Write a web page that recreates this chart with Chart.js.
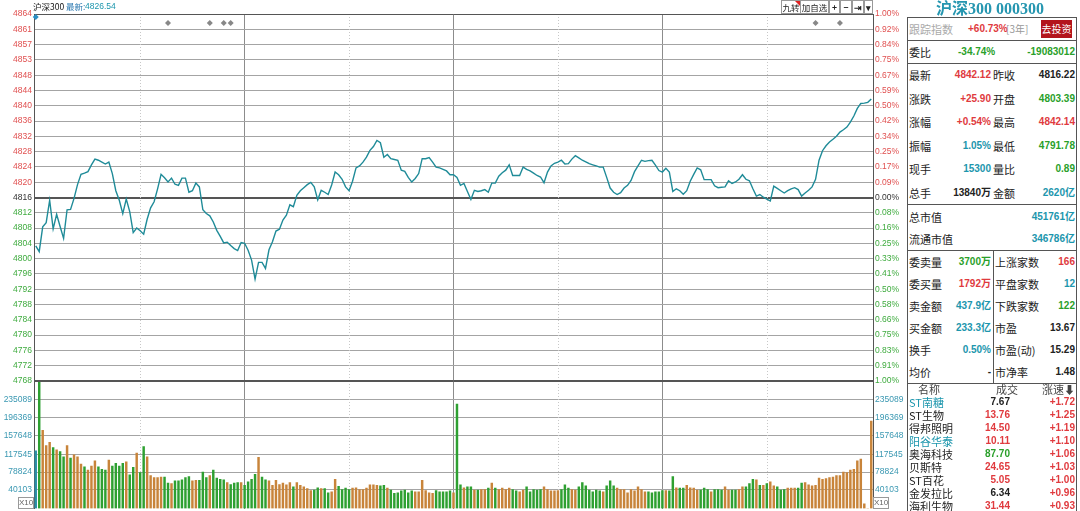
<!DOCTYPE html>
<html>
<head>
<meta charset="utf-8">
<script src="https://cdn.jsdelivr.net/npm/chart.js@4.4.1/dist/chart.umd.min.js"></script>
<style>
  body { margin: 0; background: #fff; width: 1080px; height: 511px; overflow: hidden; position: relative;
         font-family: "Liberation Sans", Arial, "Noto Sans CJK SC", sans-serif; }
  canvas { position: absolute; left: 0; }
  #pc { top: 0; }
  #vc { top: 381px; }
  .t { position: absolute; white-space: nowrap; line-height: 14px; }
  .ln { position: absolute; background: #555; }
  .btn { position: absolute; top: 0; height: 12px; border: 1px solid #999; font-size: 8.5px; line-height: 12px;
         text-align: center; color: #222; background: #fff; white-space: nowrap; overflow: hidden;
         font-family: "Noto Sans CJK SC", sans-serif; }
  .x10 { position: absolute; top: 497px; width: 14px; height: 10px; border: 1px solid #999; font-size: 8px;
         line-height: 10px; text-align: center; color: #666; }
</style>
</head>
<body>
<canvas id="pc" width="905" height="395" style="width:905px;height:395px"></canvas>
<canvas id="vc" width="905" height="130" style="width:905px;height:130px"></canvas>
<div id="ui"></div>
<script>
// --- data ---
const prevClose = 4816.22;

// minute-by-minute index level, 09:30 .. 15:00 (241 points)
const priceSeries = [
  4803.5, 4802.0, 4808.5, 4809.6, 4815.5, 4808.0, 4811.8, 4808.6, 4805.5, 4813.0,
  4813.1, 4816.0, 4819.6, 4822.3, 4822.6, 4823.0, 4824.8, 4826.3, 4826.0, 4825.5,
  4825.0, 4825.5, 4822.5, 4818.0, 4815.5, 4812.0, 4815.8, 4812.5, 4807.0, 4808.2,
  4807.5, 4806.6, 4810.5, 4813.5, 4815.1, 4818.5, 4822.3, 4821.4, 4820.3, 4821.3,
  4819.7, 4819.4, 4821.3, 4821.3, 4817.6, 4818.0, 4820.0, 4819.0, 4813.0, 4812.0,
  4811.4, 4809.8, 4807.6, 4806.0, 4804.3, 4804.5, 4803.6, 4802.8, 4802.3, 4804.4,
  4804.2, 4802.4, 4799.8, 4794.8, 4799.2, 4799.2, 4797.6, 4802.5, 4804.6, 4807.4,
  4807.9, 4810.3, 4811.6, 4814.3, 4813.8, 4816.8, 4818.0, 4818.8, 4819.6, 4820.2,
  4819.0, 4815.6, 4818.1, 4817.6, 4817.0, 4819.5, 4822.9, 4822.2, 4821.0, 4819.0,
  4818.0, 4820.5, 4824.0, 4824.5, 4825.5, 4826.8, 4828.6, 4829.6, 4831.2, 4830.6,
  4826.8, 4827.5, 4826.4, 4826.2, 4826.0, 4823.4, 4823.1, 4821.5, 4820.3, 4821.2,
  4822.5, 4826.4, 4826.4, 4826.7, 4825.5, 4824.2, 4824.0, 4823.6, 4823.2, 4822.2,
  4822.2, 4821.5, 4819.4, 4819.9, 4817.8, 4815.7, 4818.1, 4817.8, 4818.0, 4818.3,
  4817.6, 4820.0, 4820.0, 4821.8, 4822.7, 4823.4, 4824.8, 4822.0, 4822.0, 4822.0,
  4824.2, 4823.6, 4823.2, 4822.6, 4822.0, 4821.6, 4820.1, 4822.9, 4824.5, 4825.2,
  4825.5, 4826.0, 4825.0, 4825.1, 4826.3, 4827.2, 4826.6, 4826.0, 4825.6, 4825.1,
  4824.8, 4824.5, 4824.2, 4824.2, 4821.5, 4818.7, 4817.6, 4817.0, 4817.5, 4818.7,
  4819.4, 4820.7, 4823.0, 4824.5, 4826.0, 4825.7, 4825.9, 4826.0, 4824.7, 4823.3,
  4822.9, 4823.9, 4822.9, 4817.8, 4818.5, 4818.0, 4817.1, 4818.0, 4820.5, 4822.3,
  4824.0, 4823.5, 4820.9, 4820.9, 4820.9, 4819.3, 4818.8, 4818.9, 4819.0, 4820.6,
  4819.9, 4820.3, 4821.0, 4822.2, 4821.0, 4820.6, 4818.5, 4816.6, 4817.0, 4816.3,
  4815.8, 4815.3, 4819.2, 4818.6, 4818.0, 4817.4, 4818.0, 4818.5, 4818.8, 4818.3,
  4816.6, 4817.4, 4818.1, 4819.0, 4821.0, 4826.0, 4828.5, 4829.8, 4830.8, 4831.5,
  4832.3, 4833.4, 4834.0, 4834.7, 4836.0, 4837.6, 4839.6, 4840.9, 4841.0, 4841.2,
  4842.1
];

// per-minute volume (shown x10)
const volumeSeries = [
  125000, 280000, 169000, 136000, 143000, 132000, 127000, 123000, 112000, 136000,
  109000, 116000, 112000, 96000, 90000, 83000, 92000, 103000, 90000, 85000,
  83000, 105000, 92000, 98000, 92000, 98000, 101000, 73000, 89000, 120000,
  78000, 134000, 112000, 71000, 67000, 67000, 68000, 68000, 55000, 54000,
  60000, 60000, 62000, 67000, 69000, 60000, 61000, 61000, 79000, 67000,
  71000, 83000, 66000, 63000, 62000, 56000, 52000, 55000, 56000, 56000,
  50000, 58000, 63000, 74000, 111000, 68000, 62000, 60000, 50000, 61000,
  52000, 55000, 51000, 56000, 47000, 56000, 50000, 47000, 43000, 39000,
  40000, 45000, 43000, 43000, 34000, 36000, 63000, 48000, 41000, 44000,
  41000, 44000, 45000, 41000, 41000, 44000, 51000, 51000, 50000, 49000,
  50000, 44000, 40000, 33000, 34000, 38000, 40000, 34000, 38000, 36000,
  36000, 61000, 39000, 34000, 33000, 39000, 36000, 36000, 36000, 38000,
  34000, 226000, 51000, 45000, 47000, 47000, 40000, 40000, 41000, 41000,
  44000, 55000, 44000, 41000, 44000, 41000, 44000, 41000, 38000, 36000,
  40000, 47000, 36000, 41000, 40000, 41000, 47000, 41000, 38000, 38000,
  39000, 41000, 51000, 44000, 41000, 40000, 47000, 56000, 49000, 40000,
  36000, 40000, 38000, 36000, 49000, 60000, 49000, 44000, 41000, 41000,
  34000, 41000, 38000, 47000, 41000, 36000, 36000, 34000, 36000, 36000,
  39000, 39000, 38000, 69000, 45000, 44000, 44000, 50000, 45000, 44000,
  40000, 40000, 44000, 41000, 36000, 41000, 41000, 40000, 47000, 40000,
  40000, 40000, 41000, 47000, 47000, 54000, 63000, 62000, 50000, 50000,
  54000, 58000, 49000, 47000, 40000, 41000, 44000, 44000, 44000, 44000,
  55000, 56000, 51000, 49000, 50000, 66000, 63000, 65000, 67000, 68000,
  71000, 71000, 79000, 78000, 83000, 85000, 103000, 107000, 10000, 0,
  189000
];

// bar direction per minute: u = up (orange), d = down (green), n = auction
const volumeDir = (
  "nduuududdu" + "duuuduuudd" + "dudddduddu" + "dduuuuuddu" + "ddddduuddd" +
  "uddddudddu" + "ddddudduuu" + "uuuuduuuuu" + "ddudduuddd" + "duuuuuuuud" +
  "dudddddddu" + "uuuuuddddd" + "uddudduduu" + "duduuuuddu" + "uddddduuuu" +
  "uddduudddd" + "ddduddduuu" + "uuuuuudddd" + "duddudduuu" + "uddduddduu" +
  "dduudddudu" + "duuddduuud" + "duuuuuuuuu" + "uuuuuuuuuu" + "u"
).split("");

const priceTickLabels = [
  "4768", "4772", "4776", "4780", "4784", "4788", "4792", "4796", "4800", "4804", "4808", "4812",
  "4816", "4820", "4824", "4828", "4832", "4836", "4840", "4844", "4848", "4853", "4857", "4861", "4864"
];
const pctTickLabels = [
  "1.00%", "0.91%", "0.83%", "0.75%", "0.66%", "0.58%", "0.50%", "0.41%", "0.33%", "0.25%", "0.16%", "0.08%",
  "0.00%", "0.09%", "0.17%", "0.25%", "0.34%", "0.42%", "0.50%", "0.59%", "0.67%", "0.75%", "0.84%", "0.92%", "1.00%"
];
const volumeTicks = [40103, 78824, 117545, 157648, 196369, 235089];
const hourMarks = [60, 120, 180];
const halfHourMarks = [30, 90, 150, 210];
const eventMarkers = [38, 50, 54, 56, 224, 231];

// --- colours ---
const RED = "#e03a3e", GREEN = "#2a9f2a", TEAL = "#1c96ad", BLACK = "#222";
const AX_RED = "#e05050", AX_GREEN = "#3fab3f";

// grid levels: prevClose +/- k * (1% / 12)
const step = prevClose * 0.01 / 12;
const priceTicks = priceTickLabels.map((_, i) => prevClose + (i - 12) * step);
const yMin = priceTicks[0], yMax = priceTicks[priceTicks.length - 1];

const levelColor = v => Math.abs(v - prevClose) < 0.01 ? "#333" : (v > prevClose ? AX_RED : AX_GREEN);
const axisFont = { family: "Liberation Sans", size: 8.5 };

function fixWidth(w) {
  return s => { s.width = w; s.paddingTop = 0; s.paddingBottom = 0; };
}

// shared minute axis (fresh object per chart)
function minuteAxis() {
  return {
    type: "linear", min: -0.5, max: 240.5, offset: false,
    afterBuildTicks: s => { s.ticks = hourMarks.map(v => ({ value: v })); },
    afterFit: s => { s.height = 0; },
    ticks: { display: false },
    grid: { color: "#8c8c8c", drawTicks: false, offset: false },
    border: { display: false }
  };
}

// dotted half-hour lines, event markers and frame
const decor = {
  id: "decor",
  beforeDatasetsDraw(c, args, opts) {
    const a = c.chartArea, g = c.ctx, xs = c.scales.x;
    g.save();
    g.strokeStyle = "#c8c8c8";
    g.lineWidth = 1;
    g.setLineDash([1, 2]);
    halfHourMarks.forEach(m => {
      const x = Math.round(xs.getPixelForValue(m)) + 0.5;
      g.beginPath(); g.moveTo(x, a.top); g.lineTo(x, a.bottom); g.stroke();
    });
    g.restore();
  },
  afterDatasetsDraw(c, args, opts) {
    const a = c.chartArea, g = c.ctx, xs = c.scales.x;
    g.save();
    g.strokeStyle = "#555";
    g.lineWidth = 1;
    g.beginPath();
    g.moveTo(a.left, Math.round(a.top) + 0.5); g.lineTo(a.right, Math.round(a.top) + 0.5);
    if (opts.bottomLine) { g.moveTo(a.left, Math.round(a.bottom) - 0.5); g.lineTo(a.right, Math.round(a.bottom) - 0.5); }
    g.stroke();
    if (opts.markers) {
      const diamond = (x, y, r, col) => {
        g.fillStyle = col;
        g.beginPath(); g.moveTo(x, y - r); g.lineTo(x + r, y); g.lineTo(x, y + r); g.lineTo(x - r, y); g.closePath(); g.fill();
      };
      eventMarkers.forEach(m => diamond(xs.getPixelForValue(m), a.top + 9, 3, "#888"));
      diamond(xs.getPixelForValue(0), a.top + 3, 3, "#2b8fc4");
    }
    g.restore();
  }
};

new Chart(document.getElementById("pc"), {
  type: "line",
  data: {
    datasets: [{
      data: priceSeries.map((v, i) => ({ x: i, y: v })),
      borderColor: "#1f8b98",
      borderWidth: 1.4,
      pointRadius: 0,
      tension: 0
    }]
  },
  options: {
    responsive: false,
    animation: false,
    events: [],
    layout: { padding: { top: 14, bottom: 14, left: 0, right: 0 } },
    plugins: { legend: { display: false }, tooltip: { enabled: false }, decor: { markers: true, bottomLine: true } },
    scales: {
      x: minuteAxis(),
      y: {
        position: "left", min: yMin, max: yMax,
        afterBuildTicks: s => { s.ticks = priceTicks.map(v => ({ value: v })); },
        afterFit: fixWidth(34),
        ticks: { callback: (v, i) => priceTickLabels[i], color: ctx => levelColor(ctx.tick.value), font: axisFont, padding: 2 },
        grid: {
          drawTicks: false,
          color: ctx => Math.abs(ctx.tick.value - prevClose) < 0.01 ? "#555" : "#a4a4a4",
          lineWidth: ctx => Math.abs(ctx.tick.value - prevClose) < 0.01 ? 2 : 1
        },
        border: { color: "#555" }
      },
      yr: {
        position: "right", min: yMin, max: yMax,
        afterBuildTicks: s => { s.ticks = priceTicks.map(v => ({ value: v })); },
        afterFit: fixWidth(32),
        ticks: { callback: (v, i) => pctTickLabels[i], color: ctx => levelColor(ctx.tick.value), font: axisFont, padding: 2 },
        grid: { drawOnChartArea: false, drawTicks: false },
        border: { color: "#555" }
      }
    }
  },
  plugins: [decor]
});

const barColors = volumeDir.map(d => d === "u" ? "#c8843a" : d === "d" ? "#2ea031" : "#2a8fa8");

new Chart(document.getElementById("vc"), {
  type: "bar",
  data: {
    datasets: [{
      data: volumeSeries.map((v, i) => ({ x: i, y: v })),
      backgroundColor: barColors,
      barThickness: 1.8,
      borderWidth: 0
    }]
  },
  options: {
    responsive: false,
    animation: false,
    events: [],
    layout: { padding: { top: 0, bottom: 2.5, left: 0, right: 0 } },
    plugins: { legend: { display: false }, tooltip: { enabled: false }, decor: { markers: false, bottomLine: false } },
    scales: {
      x: minuteAxis(),
      y: {
        position: "left", min: 0, max: 276000,
        afterBuildTicks: s => { s.ticks = volumeTicks.map(v => ({ value: v })); },
        afterFit: fixWidth(34),
        ticks: { callback: v => String(v), color: "#3a98b2", font: axisFont, padding: 2 },
        grid: { drawTicks: false, color: "#a4a4a4" },
        border: { color: "#555" }
      },
      yr: {
        position: "right", min: 0, max: 276000,
        afterBuildTicks: s => { s.ticks = volumeTicks.map(v => ({ value: v })); },
        afterFit: fixWidth(32),
        ticks: { callback: v => String(v), color: "#3a98b2", font: axisFont, padding: 2 },
        grid: { drawOnChartArea: false, drawTicks: false },
        border: { color: "#555" }
      }
    }
  },
  plugins: [decor]
});

// --- header, buttons and quote panel (plain HTML text) ---
const ui = document.getElementById("ui");
function put(text, x, y, color, align, size, extra) {
  const d = document.createElement("div");
  d.className = "t";
  d.textContent = text;
  d.style.top = (y - 7) + "px";
  d.style.color = color;
  d.style.fontSize = (size || 10) + "px";
  if (align === "r") d.style.right = (1080 - x) + "px";
  else if (align === "c") { d.style.left = x + "px"; d.style.transform = "translateX(-50%)"; }
  else d.style.left = x + "px";
  if (extra) Object.assign(d.style, extra);
  ui.appendChild(d);
  return d;
}
function line(x, y, w, h, col) {
  const d = document.createElement("div");
  d.className = "ln";
  Object.assign(d.style, { left: x + "px", top: y + "px", width: w + "px", height: h + "px" });
  if (col) d.style.background = col;
  ui.appendChild(d);
}
const CJK = { fontFamily: "'Noto Sans CJK SC', sans-serif" };
const NUM = { fontWeight: "bold" };

put("沪深300", 33, 6, "#111", "l", 8.5, CJK);
put("最新:", 66, 6, "#2a78b0", "l", 8.5, CJK);
put("4826.54", 85, 6, TEAL, "l", 8.5);

[["九转", 781, 18], ["加自选", 800, 27], ["+", 829, 9], ["−", 840, 10], ["⇥", 852, 10], ["▾", 864, 7]].forEach(b => {
  const d = document.createElement("div");
  d.className = "btn";
  d.textContent = b[0];
  Object.assign(d.style, { left: b[1] + "px", width: b[2] + "px" });
  if (b[0].length === 1) d.style.fontWeight = "bold";
  ui.appendChild(d);
});
const tri = document.createElement("div");
Object.assign(tri.style, { position: "absolute", left: "795px", top: "1px", width: 0, height: 0,
  borderTop: "5px solid #e02020", borderLeft: "5px solid transparent" });
ui.appendChild(tri);

const xl1 = document.createElement("div");
xl1.className = "x10"; xl1.textContent = "X10"; xl1.style.left = "18px"; ui.appendChild(xl1);
const xl2 = document.createElement("div");
xl2.className = "x10"; xl2.textContent = "X10"; xl2.style.left = "873px"; ui.appendChild(xl2);

// right quote panel
put("沪深300 000300", 990, 9, "#2596b0", "c", 16, { fontFamily: "'Liberation Serif', 'Noto Sans CJK SC', serif", fontWeight: "bold" });
line(907, 17, 1, 494);
line(1076, 17, 1, 494);
line(907, 17, 170, 1);
put("跟踪指数", 909, 29, "#aaa", "l", 11, CJK);
put("+60.73%", 968, 29, RED, "l", 10, NUM);
put("[3年]", 1006, 29, "#999", "l", 10, CJK);
put("去投资", 1041, 29, "#fff", "l", 10, Object.assign({ background: "#b3141c", width: "31px", height: "18px",
  lineHeight: "18px", textAlign: "center", top: "20px" }, CJK));
line(907, 40, 170, 1);
put("委比", 909, 52, BLACK, "l", 11, CJK);
put("-34.74%", 958, 52, GREEN, "l", 10, NUM);
put("-19083012", 1075, 52, GREEN, "r", 10, NUM);
line(907, 63, 170, 1);

const quoteRows = [
  ["最新", "4842.12", RED, "昨收", "4816.22", BLACK],
  ["涨跌", "+25.90", RED, "开盘", "4803.39", GREEN],
  ["涨幅", "+0.54%", RED, "最高", "4842.14", RED],
  ["振幅", "1.05%", TEAL, "最低", "4791.78", GREEN],
  ["现手", "15300", TEAL, "量比", "0.89", GREEN],
  ["总手", "13840万", BLACK, "金额", "2620亿", TEAL]
];
quoteRows.forEach((r, i) => {
  const y = 75 + i * 23.6;
  put(r[0], 909, y, BLACK, "l", 11, CJK);
  put(r[1], 991, y, r[2], "r", 10, NUM);
  put(r[3], 993, y, BLACK, "l", 11, CJK);
  put(r[4], 1075, y, r[5], "r", 10, NUM);
});
line(907, 204, 170, 1);
put("总市值", 909, 217, BLACK, "l", 11, CJK);
put("451761亿", 1075, 217, TEAL, "r", 10, NUM);
put("流通市值", 909, 239, BLACK, "l", 11, CJK);
put("346786亿", 1075, 239, TEAL, "r", 10, NUM);
line(907, 250, 170, 1);
line(993, 250, 1, 133);

const marketRows = [
  ["委卖量", "3700万", GREEN, "上涨家数", "166", RED],
  ["委买量", "1792万", RED, "平盘家数", "12", TEAL],
  ["卖金额", "437.9亿", TEAL, "下跌家数", "122", GREEN],
  ["买金额", "233.3亿", TEAL, "市盈", "13.67", BLACK],
  ["换手", "0.50%", TEAL, "市盈(动)", "15.29", BLACK],
  ["均价", "-", BLACK, "市净率", "1.48", BLACK]
];
marketRows.forEach((r, i) => {
  const y = 262 + i * 22;
  put(r[0], 909, y, BLACK, "l", 11, CJK);
  put(r[1], 991, y, r[2], "r", 10, NUM);
  put(r[3], 995, y, BLACK, "l", 11, CJK);
  put(r[4], 1075, y, r[5], "r", 10, NUM);
});
line(907, 383, 170, 1);

put("名称", 929, 389, "#444", "c", 11, CJK);
put("成交", 1007, 389, "#444", "c", 11, CJK);
put("涨速⬇", 1075, 389, "#444", "r", 11, CJK);

const moverRows = [
  ["ST南糖", TEAL, "7.67", BLACK, "+1.72"],
  ["ST生物", BLACK, "13.76", RED, "+1.25"],
  ["得邦照明", BLACK, "14.50", RED, "+1.19"],
  ["阳谷华泰", TEAL, "10.11", RED, "+1.10"],
  ["奥海科技", BLACK, "87.70", GREEN, "+1.06"],
  ["贝斯特", BLACK, "24.65", RED, "+1.03"],
  ["ST百花", BLACK, "5.05", RED, "+1.00"],
  ["金发拉比", BLACK, "6.34", BLACK, "+0.96"],
  ["海利生物", BLACK, "31.44", RED, "+0.93"]
];
moverRows.forEach((r, i) => {
  const y = 402 + i * 13;
  put(r[0], 909, y, r[1], "l", 11, CJK);
  put(r[2], 1010, y, r[3], "r", 10, NUM);
  put(r[4], 1075, y, RED, "r", 10, NUM);
});
</script>
</body>
</html>
